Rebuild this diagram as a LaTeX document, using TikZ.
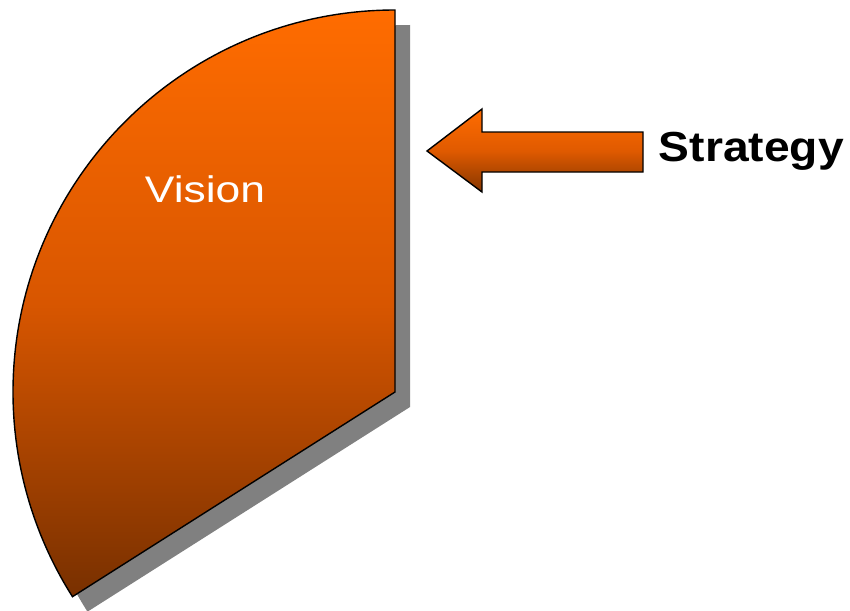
\documentclass[tikz,border=0pt]{standalone}
\usepackage{fontspec}
\setmainfont{Liberation Sans}
\begin{document}
\begin{tikzpicture}[x=1pt,y=-1pt,
  edge/.style={draw=black,line width=1.4pt,line join=miter},
  warm/.style={top color=orangeTop,bottom color=orangeBottom,middle color=orangeMid},
  arrowfill/.style={top color=arrowTop,bottom color=arrowBottom,middle color=arrowMid},
  shadowfill/.style={fill=shadowgray}]
\definecolor{orangeTop}{HTML}{FF6C00}
\definecolor{orangeMid}{HTML}{D85600}
\definecolor{orangeBottom}{HTML}{783000}
\definecolor{arrowTop}{HTML}{FF6C00}
\definecolor{arrowMid}{HTML}{E05A00}
\definecolor{arrowBottom}{HTML}{853600}
\definecolor{shadowgray}{HTML}{808080}
\useasboundingbox (0,0) rectangle (850,610);

% centre of the sector
\coordinate (c) at (395,392);
\coordinate (sh) at (410,407);

% drop shadow of the sector
\fill[shadowfill] (sh) -- ++(0,-382) arc[start angle=-90,end angle=-212.4,radius=382] -- cycle;
% the sector itself
\path[warm,edge] (c) -- ++(0,-382) arc[start angle=-90,end angle=-212.4,radius=382] -- cycle;

\node[text=white,font=\fontsize{37}{40}\selectfont,xscale=1.2] (vision) at (205,189) {Vision};

% block arrow pointing at the sector
\path[arrowfill,edge]
  (427,151) -- (482,109) -- (482,132) -- (643,132) -- (643,172) -- (482,172) -- (482,192) -- cycle;
\coordinate (arrowtip) at (427,151);

\node[font=\bfseries\fontsize{42}{46}\selectfont,xscale=1.1,anchor=west] (strategy) at (655,151) {Strategy};
\end{tikzpicture}
\end{document}
